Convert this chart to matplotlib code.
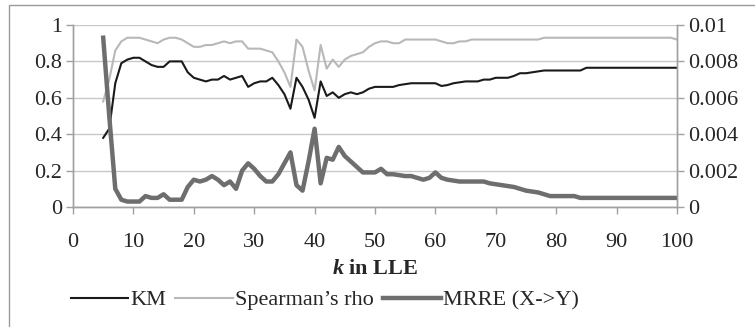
import matplotlib
matplotlib.use("Agg")
import matplotlib.pyplot as plt
from matplotlib.patches import Rectangle

plt.rcParams['font.family'] = ['Liberation Serif', 'DejaVu Serif']
plt.rcParams['mathtext.fontset'] = 'custom'
plt.rcParams['mathtext.it'] = 'Liberation Serif:italic:bold'
plt.rcParams['mathtext.rm'] = 'Liberation Serif:bold'

# neighbourhood size k = 5..100
k_values = list(range(5, 101))

km = [0.38, 0.43, 0.68, 0.79, 0.81, 0.82, 0.82, 0.80, 0.78, 0.77,   # 5-14
      0.77, 0.80, 0.80, 0.80, 0.74, 0.71, 0.70, 0.69, 0.70, 0.70,   # 15-24
      0.72, 0.70, 0.71, 0.72, 0.66, 0.68, 0.69, 0.69, 0.71, 0.67,   # 25-34
      0.62, 0.54, 0.71, 0.66, 0.59, 0.49, 0.69, 0.61, 0.63, 0.60,   # 35-44
      0.62, 0.63, 0.62, 0.63, 0.65, 0.66, 0.66, 0.66, 0.66, 0.67,   # 45-54
      0.675, 0.68, 0.68, 0.68, 0.68, 0.68, 0.665, 0.67, 0.68, 0.685,  # 55-64
      0.69, 0.69, 0.69, 0.70, 0.70, 0.71, 0.71, 0.71, 0.72, 0.735,  # 65-74
      0.735, 0.74, 0.745, 0.75, 0.75, 0.75, 0.75, 0.75, 0.75, 0.75,  # 75-84
      0.765, 0.765, 0.765, 0.765, 0.765, 0.765, 0.765, 0.765, 0.765, 0.765,  # 85-94
      0.765, 0.765, 0.765, 0.765, 0.765, 0.765]                      # 95-100

spearman = [0.58, 0.70, 0.86, 0.91, 0.93, 0.93, 0.93, 0.92, 0.91, 0.90,   # 5-14
            0.92, 0.93, 0.93, 0.92, 0.90, 0.88, 0.88, 0.89, 0.89, 0.90,   # 15-24
            0.91, 0.90, 0.91, 0.91, 0.87, 0.87, 0.87, 0.86, 0.85, 0.80,   # 25-34
            0.74, 0.66, 0.92, 0.88, 0.75, 0.64, 0.89, 0.76, 0.81, 0.77,   # 35-44
            0.81, 0.83, 0.84, 0.85, 0.88, 0.90, 0.91, 0.91, 0.90, 0.90,   # 45-54
            0.92, 0.92, 0.92, 0.92, 0.92, 0.92, 0.91, 0.90, 0.90, 0.91,   # 55-64
            0.91, 0.92, 0.92, 0.92, 0.92, 0.92, 0.92, 0.92, 0.92, 0.92,   # 65-74
            0.92, 0.92, 0.92, 0.93, 0.93, 0.93, 0.93, 0.93, 0.93, 0.93,   # 75-84
            0.93, 0.93, 0.93, 0.93, 0.93, 0.93, 0.93, 0.93, 0.93, 0.93,   # 85-94
            0.93, 0.93, 0.93, 0.93, 0.93, 0.92]                            # 95-100

mrre = [0.0093, 0.0050, 0.0010, 0.0004, 0.0003, 0.0003, 0.0003, 0.0006, 0.0005, 0.0005,   # 5-14
        0.0007, 0.0004, 0.0004, 0.0004, 0.0011, 0.0015, 0.0014, 0.0015, 0.0017, 0.0015,   # 15-24
        0.0012, 0.0014, 0.0010, 0.0020, 0.0024, 0.0021, 0.0017, 0.0014, 0.0014, 0.0018,   # 25-34
        0.0024, 0.0030, 0.0012, 0.0009, 0.0025, 0.0043, 0.0013, 0.0027, 0.0026, 0.0033,   # 35-44
        0.0028, 0.0025, 0.0022, 0.0019, 0.0019, 0.0019, 0.0021, 0.0018, 0.0018, 0.00175,  # 45-54
        0.0017, 0.0017, 0.0016, 0.0015, 0.0016, 0.0019, 0.0016, 0.0015, 0.00145, 0.0014,  # 55-64
        0.0014, 0.0014, 0.0014, 0.0014, 0.0013, 0.00125, 0.0012, 0.00115, 0.0011, 0.0010,  # 65-74
        0.0009, 0.00085, 0.0008, 0.0007, 0.0006, 0.0006, 0.0006, 0.0006, 0.0006, 0.0005,  # 75-84
        0.0005, 0.0005, 0.0005, 0.0005, 0.0005, 0.0005, 0.0005, 0.0005, 0.0005, 0.0005,   # 85-94
        0.0005, 0.0005, 0.0005, 0.0005, 0.0005, 0.0005]                                   # 95-100

left_ticks = [0, 0.2, 0.4, 0.6, 0.8, 1]
left_labels = ['0', '0.2', '0.4', '0.6', '0.8', '1']
right_ticks = [0, 0.002, 0.004, 0.006, 0.008, 0.01]
right_labels = ['0', '0.002', '0.004', '0.006', '0.008', '0.01']
x_ticks = list(range(0, 101, 10))

grid_col = '#c8c8c8'
spine_col = '#a0a0a0'
text_col = '#262626'

fig = plt.figure(figsize=(7.55, 3.27), dpi=100)
ax = fig.add_axes([73 / 755, 1 - 207 / 327, 604 / 755, 182 / 327])

# outer chart border
fig.patches.append(Rectangle((9 / 755, -0.05), 1.2, 1.05 - 5 / 327,
                             transform=fig.transFigure, fill=False,
                             edgecolor='#9a9a9a', linewidth=1.0))

ax.plot(k_values, km, color='#1a1a1a', linewidth=1.5, label='KM')
ax.plot(k_values, spearman, color='#b8b8b8', linewidth=1.5, label="Spearman\u2019s rho")

ax2 = ax.twinx()
ax2.plot(k_values, mrre, color='#6e6e6e', linewidth=3.2, label='MRRE (X->Y)')

ax.set_xlim(0, 100)
ax.set_ylim(0, 1)
ax2.set_ylim(0, 0.01)
ax.set_xticks(x_ticks)
ax.set_yticks(left_ticks)
ax.set_yticklabels(left_labels)
ax2.set_yticks(right_ticks)
ax2.set_yticklabels(right_labels)

ax.yaxis.grid(True, color=grid_col, linewidth=1.0)
ax.set_axisbelow(True)

for a in (ax, ax2):
    a.spines['top'].set_visible(False)
    for s in ('left', 'right', 'bottom'):
        a.spines[s].set_color(spine_col)
        a.spines[s].set_linewidth(1.0)
    a.tick_params(colors=spine_col, labelcolor=text_col, labelsize=16,
                  length=5, width=1.0, pad=3)
ax.tick_params(axis='x', pad=14)

ax.set_xlabel(r'$k$ in LLE', fontsize=16, fontweight='bold', color=text_col, labelpad=5)

handles = ax.get_lines() + ax2.get_lines()
fig.legend(handles, [h.get_label() for h in handles], loc='center',
           bbox_to_anchor=(0.43, 1 - 300 / 327), ncol=3, frameon=False,
           fontsize=16, handlelength=2.6, handletextpad=0.1, columnspacing=0.4,
           labelcolor=text_col)

fig.savefig('out.png', dpi=100)
